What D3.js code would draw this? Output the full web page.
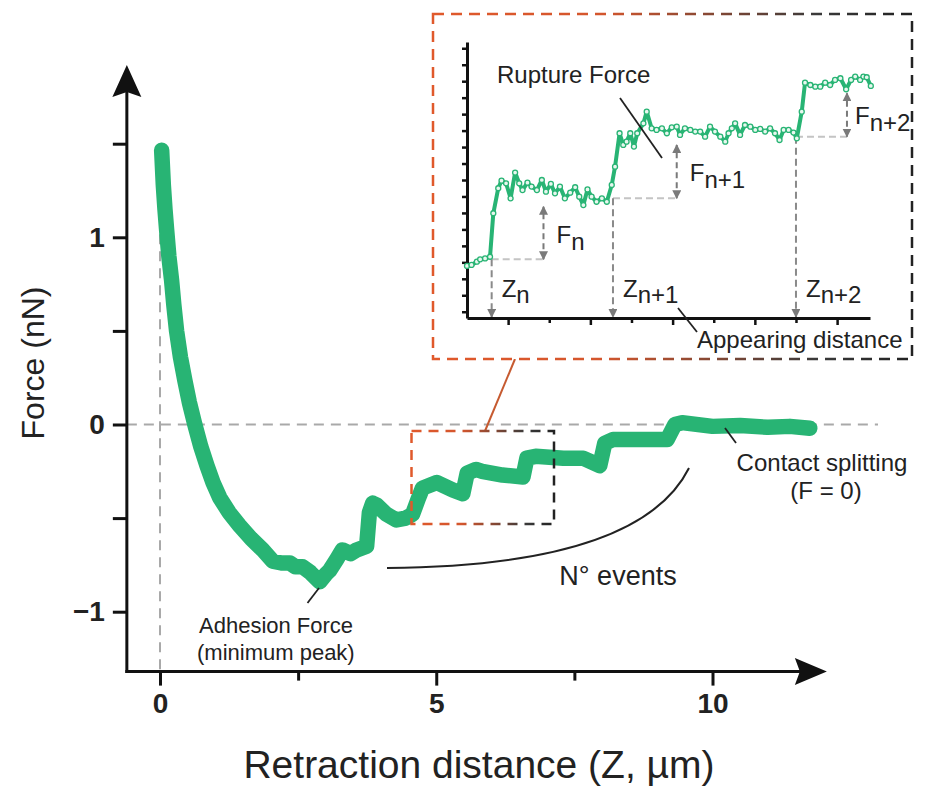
<!DOCTYPE html>
<html>
<head>
<meta charset="utf-8">
<script src="https://cdn.jsdelivr.net/npm/d3@7"></script>
<style>
  body { margin: 0; background: #fff; }
  svg text { font-family: "Liberation Sans", Arial, sans-serif; fill: #222; }
</style>
</head>
<body>
<svg id="chart" width="927" height="787"></svg>
<script>
// main retraction curve (Z in um, F in nN)
const mainZ = [0.03, 0.06, 0.09, 0.12, 0.16, 0.21, 0.25, 0.30, 0.37, 0.45, 0.53, 0.63, 0.74, 0.85, 0.96, 1.08, 1.25, 1.44, 1.65, 1.86, 2.04, 2.20, 2.35, 2.45, 2.58, 2.72, 2.89, 3.00, 3.07, 3.20, 3.30, 3.45, 3.56, 3.74, 3.79, 3.85, 3.92, 4.10, 4.28, 4.45, 4.57, 4.67, 4.75, 5.01, 5.30, 5.48, 5.56, 5.72, 5.83, 6.20, 6.57, 6.64, 6.80, 7.30, 7.66, 7.96, 8.05, 8.20, 8.60, 9.00, 9.18, 9.32, 9.45, 10.00, 10.50, 11.00, 11.40, 11.76];
const mainF = [1.465, 1.28, 1.15, 1.04, 0.90, 0.77, 0.64, 0.50, 0.36, 0.235, 0.12, 0.0, -0.12, -0.22, -0.31, -0.39, -0.47, -0.54, -0.61, -0.67, -0.73, -0.74, -0.74, -0.76, -0.76, -0.79, -0.84, -0.80, -0.78, -0.72, -0.67, -0.69, -0.67, -0.65, -0.47, -0.42, -0.43, -0.48, -0.51, -0.50, -0.48, -0.40, -0.34, -0.31, -0.35, -0.37, -0.26, -0.24, -0.25, -0.27, -0.28, -0.18, -0.17, -0.18, -0.18, -0.22, -0.10, -0.08, -0.08, -0.08, -0.08, 0.0, 0.01, -0.01, -0.005, -0.015, -0.01, -0.02];

// zoomed inset curve (arbitrary units)
const insetZ = [0.0, 0.11, 0.24, 0.32, 0.44, 0.56, 0.64, 0.76, 0.84, 0.95, 1.06, 1.17, 1.27, 1.35, 1.47, 1.57, 1.70, 1.82, 1.92, 2.04, 2.14, 2.26, 2.38, 2.51, 2.63, 2.73, 2.83, 2.93, 3.03, 3.15, 3.28, 3.40, 3.52, 3.60, 3.71, 3.80, 3.88, 3.97, 4.06, 4.14, 4.29, 4.37, 4.49, 4.61, 4.74, 4.86, 4.98, 5.10, 5.18, 5.30, 5.43, 5.55, 5.67, 5.79, 5.91, 6.03, 6.16, 6.28, 6.36, 6.44, 6.52, 6.64, 6.76, 6.89, 7.01, 7.13, 7.25, 7.37, 7.49, 7.60, 7.70, 7.82, 7.94, 8.02, 8.14, 8.22, 8.35, 8.47, 8.59, 8.71, 8.83, 8.95, 9.08, 9.22, 9.34, 9.44, 9.56, 9.64, 9.72, 9.82];
const insetF = [2.78, 2.84, 3.04, 3.18, 3.24, 3.34, 5.98, 7.50, 7.96, 7.80, 6.89, 8.45, 7.80, 7.39, 7.84, 7.60, 7.39, 8.00, 7.29, 7.76, 7.19, 7.60, 6.89, 7.23, 7.56, 6.99, 6.48, 7.43, 6.99, 6.68, 6.89, 6.68, 7.70, 8.81, 10.84, 10.13, 10.33, 10.84, 10.03, 10.84, 11.44, 12.15, 11.14, 11.04, 11.14, 10.84, 11.20, 11.24, 10.74, 11.14, 11.04, 10.94, 10.94, 10.63, 11.24, 10.94, 10.63, 10.33, 10.84, 11.14, 11.44, 10.74, 11.34, 11.24, 11.04, 11.10, 10.94, 11.14, 10.84, 10.43, 11.04, 11.04, 10.88, 10.53, 12.15, 13.91, 13.77, 13.67, 13.67, 13.91, 13.77, 14.08, 14.18, 13.51, 14.08, 14.28, 14.08, 14.28, 14.24, 13.71];

// steps in the inset: where each event appears, its base level, the arrow position and top
const stepZ = [0.60, 3.55, 8.00];
const stepLevel = [3.18, 6.89, 10.63];
const gapZ = [1.86, 5.10, 9.24];
const gapTop = [6.38, 10.13, 13.27];
const stepSubs = ["n", "n+1", "n+2"];

// axes
const xTicks = [0, 5, 10];
const xMinor = [2.5, 7.5];
const yTicks = [-1, 0, 1];
const yMinor = [-0.5, 0.5, 1.5];
const axisZ = [-0.6, 12.07];
const axisF = [-1.32, 1.92];
const insetXTicks = [1, 2, 3, 4, 5, 6, 7, 8, 9];
const insetYTicks = [0, 1, 2, 3, 4, 5, 6, 7, 8, 9, 10, 11, 12, 13, 14, 15, 16];

const green = "#28b474";
const orange = "#e0592b";
const svg = d3.select("#chart");

const x = d3.scaleLinear().domain([0, 10]).range([160, 712.5]);
const y = d3.scaleLinear().domain([-1, 1]).range([611.7, 237.3]);

const ix = d3.scaleLinear().domain([0, 9.8]).range([467, 870]);
const iy = d3.scaleLinear().domain([-0.38, 16.38]).range([318, 42]);

// gradients for the two dashed boxes
const defs = svg.append("defs");
function addGrad(id, x1, x2) {
  const g = defs.append("linearGradient").attr("id", id)
      .attr("gradientUnits", "userSpaceOnUse")
      .attr("x1", x1).attr("x2", x2).attr("y1", 0).attr("y2", 0);
  g.append("stop").attr("offset", "0%").attr("stop-color", orange);
  g.append("stop").attr("offset", "35%").attr("stop-color", "#d4562d");
  g.append("stop").attr("offset", "80%").attr("stop-color", "#3a3a3a");
  g.append("stop").attr("offset", "100%").attr("stop-color", "#222");
}
addGrad("gradInset", 433, 912);
addGrad("gradBox", 411, 554);

defs.append("marker").attr("id", "grayArrow")
    .attr("viewBox", "0 0 10 10").attr("refX", 9).attr("refY", 5)
    .attr("markerUnits", "userSpaceOnUse")
    .attr("markerWidth", 9).attr("markerHeight", 9)
    .attr("orient", "auto-start-reverse")
  .append("path").attr("d", "M0,0 L10,5 L0,10 Z").attr("fill", "#7a7a7a");

// reference dashed lines
svg.append("line")
    .attr("x1", x(axisZ[0])).attr("x2", 878)
    .attr("y1", y(0)).attr("y2", y(0))
    .attr("stroke", "#a9a9a9").attr("stroke-width", 2).attr("stroke-dasharray", "10,7");
svg.append("line")
    .attr("x1", x(0)).attr("x2", x(0))
    .attr("y1", y(1.47)).attr("y2", y(axisF[0]))
    .attr("stroke", "#a9a9a9").attr("stroke-width", 2).attr("stroke-dasharray", "10,7");

// main curve
const mainLine = d3.line()
    .x((d, i) => x(mainZ[i]))
    .y(d => y(d));

svg.append("path")
    .datum(mainF)
    .attr("d", mainLine)
    .attr("fill", "none")
    .attr("stroke", green)
    .attr("stroke-width", 15.5)
    .attr("stroke-linecap", "round")
    .attr("stroke-linejoin", "round");

// axes: ticks from d3, lines and arrow heads drawn by hand
const yAxis = svg.append("g")
    .attr("transform", `translate(${x(axisZ[0])},0)`)
    .call(d3.axisLeft(y).tickValues(yTicks.concat(yMinor)).tickSize(14).tickPadding(8)
      .tickFormat(d => yTicks.includes(d) ? (d < 0 ? "\u2212" + Math.abs(d) : d) : ""));
yAxis.select(".domain").remove();
yAxis.selectAll(".tick line").attr("stroke", "#111").attr("stroke-width", 3);
yAxis.selectAll(".tick text")
    .style("font-size", "28px").style("font-weight", "bold")
    .style("font-family", "'Liberation Sans', Arial, sans-serif").attr("fill", "#222");

const xAxis = svg.append("g")
    .attr("transform", `translate(0,${y(axisF[0])})`)
    .call(d3.axisBottom(x).tickValues(xTicks).tickSize(14).tickPadding(8));
xAxis.select(".domain").remove();
xAxis.selectAll(".tick line").attr("stroke", "#111").attr("stroke-width", 3);
xAxis.selectAll(".tick text")
    .style("font-size", "28px").style("font-weight", "bold")
    .style("font-family", "'Liberation Sans', Arial, sans-serif").attr("fill", "#222");

const xAxisMinor = svg.append("g")
    .attr("transform", `translate(0,${y(axisF[0])})`)
    .call(d3.axisBottom(x).tickValues(xMinor).tickSize(9).tickFormat(""));
xAxisMinor.select(".domain").remove();
xAxisMinor.selectAll(".tick line").attr("stroke", "#111").attr("stroke-width", 3);

const x0 = x(axisZ[0]), y0 = y(axisF[0]);
const yTip = y(axisF[1]), xTip = x(axisZ[1]);
svg.append("line").attr("x1", x0).attr("x2", x0).attr("y1", y0 + 1.5).attr("y2", yTip + 20)
    .attr("stroke", "#111").attr("stroke-width", 3);
svg.append("line").attr("x1", x0 - 1.5).attr("x2", xTip - 20).attr("y1", y0).attr("y2", y0)
    .attr("stroke", "#111").attr("stroke-width", 3);
svg.append("path")
    .attr("d", `M${x0},${yTip} L${x0 + 14.5},${yTip + 32} L${x0},${yTip + 27} L${x0 - 14.5},${yTip + 32} Z`)
    .attr("fill", "#111");
svg.append("path")
    .attr("d", `M${xTip},${y0} L${xTip - 32},${y0 - 13.5} L${xTip - 27},${y0} L${xTip - 32},${y0 + 13.5} Z`)
    .attr("fill", "#111");

// axis titles
svg.append("text")
    .attr("transform", "translate(44,363) rotate(-90)")
    .attr("text-anchor", "middle")
    .style("font-size", "32px")
    .text("Force (nN)");
svg.append("text")
    .attr("x", 479).attr("y", 778)
    .attr("text-anchor", "middle")
    .style("font-size", "39px")
    .text("Retraction distance (Z, \u00b5m)");

// highlighted region and connector to the inset
svg.append("line")
    .attr("x1", 485).attr("y1", 431).attr("x2", 515).attr("y2", 359)
    .attr("stroke", "#c65a30").attr("stroke-width", 2);
svg.append("rect")
    .attr("x", 411.5).attr("y", 431).attr("width", 142.5).attr("height", 93)
    .attr("fill", "none").attr("stroke", "url(#gradBox)")
    .attr("stroke-width", 2.5).attr("stroke-dasharray", "10,7");

// annotations on the main plot
function leader(x1, y1, x2, y2) {
  svg.append("line").attr("x1", x1).attr("y1", y1).attr("x2", x2).attr("y2", y2)
      .attr("stroke", "#222").attr("stroke-width", 1.8);
}
leader(319, 588, 307.5, 603);
svg.append("text").attr("x", 199).attr("y", 633).style("font-size", "22px").text("Adhesion Force");
svg.append("text").attr("x", 197).attr("y", 660).style("font-size", "22px").text("(minimum peak)");

svg.append("path")
    .attr("d", "M387,568 Q640,566 689,468")
    .attr("fill", "none").attr("stroke", "#222").attr("stroke-width", 2);
svg.append("text").attr("x", 618).attr("y", 585).attr("text-anchor", "middle")
    .style("font-size", "27px").text("N\u00b0 events");

leader(725, 428, 736, 443);
svg.append("text").attr("x", 822).attr("y", 471).attr("text-anchor", "middle")
    .style("font-size", "24px").text("Contact splitting");
svg.append("text").attr("x", 826).attr("y", 499).attr("text-anchor", "middle")
    .style("font-size", "24px").text("(F = 0)");

// ---- inset ----
svg.append("rect")
    .attr("x", 433).attr("y", 14).attr("width", 479).attr("height", 345)
    .attr("fill", "#fff").attr("stroke", "url(#gradInset)")
    .attr("stroke-width", 2.5).attr("stroke-dasharray", "11,7");

const inset = svg.append("g");

// guide lines for steps
stepZ.forEach((z, i) => {
  inset.append("line")
      .attr("x1", ix(z)).attr("x2", ix(gapZ[i]))
      .attr("y1", iy(stepLevel[i])).attr("y2", iy(stepLevel[i]))
      .attr("stroke", "#c4c4c4").attr("stroke-width", 2).attr("stroke-dasharray", "7,4");
  inset.append("line")
      .attr("x1", ix(z)).attr("x2", ix(z))
      .attr("y1", iy(stepLevel[i])).attr("y2", iy(-0.38) - 1)
      .attr("stroke", "#8a8a8a").attr("stroke-width", 2).attr("stroke-dasharray", "7,4")
      .attr("marker-end", "url(#grayArrow)");
  inset.append("line")
      .attr("x1", ix(gapZ[i])).attr("x2", ix(gapZ[i]))
      .attr("y1", iy(stepLevel[i])).attr("y2", iy(gapTop[i]))
      .attr("stroke", "#7a7a7a").attr("stroke-width", 2).attr("stroke-dasharray", "6,4")
      .attr("marker-start", "url(#grayArrow)")
      .attr("marker-end", "url(#grayArrow)");
});

const iyAxis = inset.append("g")
    .attr("transform", `translate(${ix(0)},0)`)
    .call(d3.axisLeft(iy).tickValues(insetYTicks).tickSize(5).tickSizeOuter(0).tickFormat(""));
iyAxis.select(".domain").attr("stroke", "#111").attr("stroke-width", 3);
iyAxis.selectAll(".tick line").attr("stroke", "#111").attr("stroke-width", 2.5);

const ixAxis = inset.append("g")
    .attr("transform", `translate(0,${iy(-0.38)})`)
    .call(d3.axisBottom(ix).tickValues(insetXTicks).tickSize(6).tickSizeOuter(0).tickFormat(""));
ixAxis.select(".domain").attr("stroke", "#111").attr("stroke-width", 3);
ixAxis.selectAll(".tick line")
    .attr("y2", d => d % 2 ? 7 : 5)
    .attr("stroke", "#111").attr("stroke-width", 2.5);

const insetLine = d3.line()
    .x((d, i) => ix(insetZ[i]))
    .y(d => iy(d));

inset.append("path")
    .datum(insetF)
    .attr("d", insetLine)
    .attr("fill", "none")
    .attr("stroke", green)
    .attr("stroke-width", 4)
    .attr("stroke-linejoin", "round");

inset.selectAll("circle.pt")
    .data(insetF)
    .enter()
    .append("circle")
    .attr("class", "pt")
    .attr("cx", (d, i) => ix(insetZ[i]))
    .attr("cy", d => iy(d))
    .attr("r", 2.5)
    .attr("fill", "#e8f7ef")
    .attr("stroke", green)
    .attr("stroke-width", 1.3);

// step labels
const fDx = [13, 13, 8];
const fDy = [-16, -17, -13];
stepZ.forEach((z, i) => {
  const zt = inset.append("text")
      .attr("x", ix(z) + 10).attr("y", iy(-0.38) - 21)
      .style("font-size", "24px");
  zt.append("tspan").text("Z");
  zt.append("tspan").attr("dy", 6).text(stepSubs[i]);

  const ft = inset.append("text")
      .attr("x", ix(gapZ[i]) + fDx[i]).attr("y", iy(stepLevel[i]) + fDy[i])
      .style("font-size", "24px");
  ft.append("tspan").text("F");
  ft.append("tspan").attr("dy", 7).text(stepSubs[i]);
});

inset.append("text").attr("x", 497).attr("y", 83).style("font-size", "24px").text("Rupture Force");
inset.append("line").attr("x1", 620).attr("y1", 98).attr("x2", 662).attr("y2", 158)
    .attr("stroke", "#222").attr("stroke-width", 1.8);

inset.append("line").attr("x1", 678).attr("y1", 308).attr("x2", 697).attr("y2", 332)
    .attr("stroke", "#222").attr("stroke-width", 1.8);
inset.append("text").attr("x", 697).attr("y", 348).style("font-size", "24px").text("Appearing distance");
</script>
</body>
</html>
